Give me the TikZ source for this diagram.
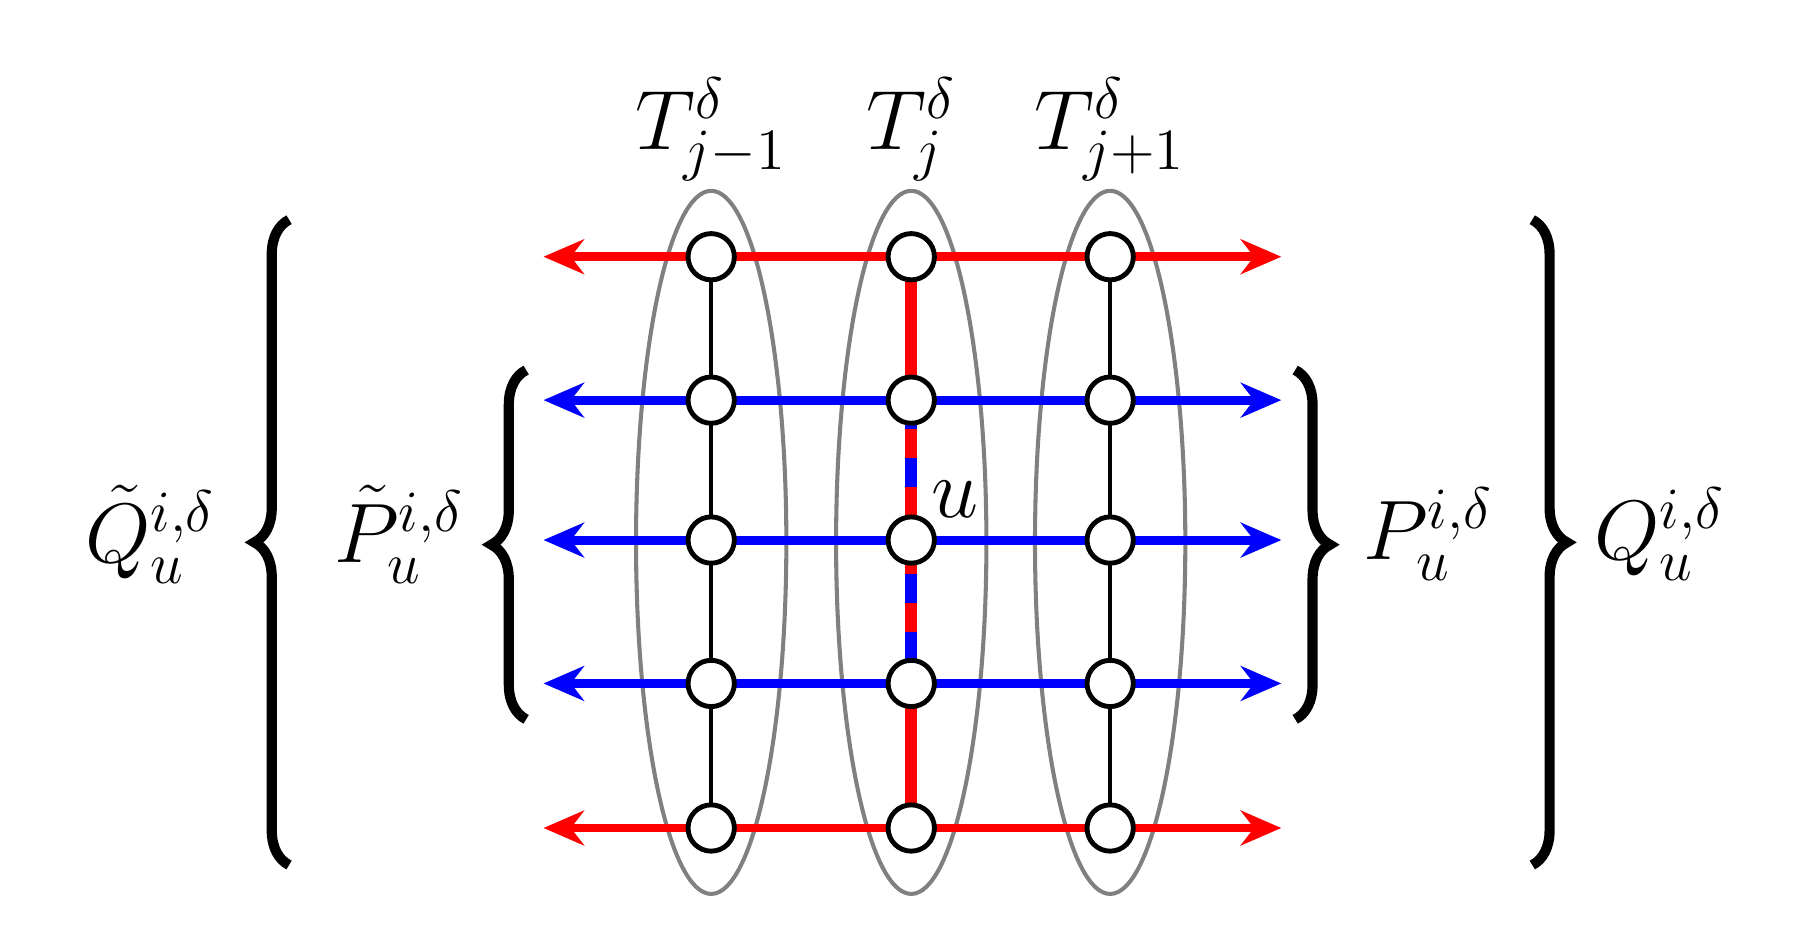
\documentclass[tikz,border=0pt]{standalone}
\usetikzlibrary{decorations.pathreplacing,arrows.meta}
\begin{document}
\begin{tikzpicture}[x=0.01cm,y=-0.01cm,
 vx/.style={circle,draw,fill=white,line width=1.2pt,minimum size=0.4cm,inner sep=0pt},
 redl/.style={red,line width=2.2pt},
 bluel/.style={blue,line width=2.2pt},
 arr/.style={-{Stealth[length=0.35cm,width=0.3cm]}},
 ell/.style={gray,line width=1pt},
 br/.style={decorate,decoration={brace,amplitude=0.3cm},line width=2.5pt},
 lab/.style={font=\fontsize{22}{26}\selectfont}]
\useasboundingbox (0,0) rectangle (1560,802);
\foreach \c/\x in {a/615,b/788,c/960}{
  \draw[ell] (\x,469) ellipse [x radius=65, y radius=304];
}
\foreach \c/\x in {a/615,b/788,c/960}
 \foreach \r/\y in {1/222,2/346,3/467,4/591,5/716}
  \coordinate (\c\r) at (\x,\y);
\foreach \r/\y in {1/222,5/716}{
 \coordinate (L\r) at (470,\y); \coordinate (R\r) at (1108,\y);
 \draw[redl,arr] (a\r) -- (L\r); \draw[redl,arr] (c\r) -- (R\r); \draw[redl] (a\r) -- (c\r);}
\foreach \r/\y in {2/346,3/467,4/591}{
 \coordinate (L\r) at (470,\y); \coordinate (R\r) at (1108,\y);
 \draw[bluel,arr] (a\r) -- (L\r); \draw[bluel,arr] (c\r) -- (R\r); \draw[bluel] (a\r) -- (c\r);}
\draw[line width=1pt] (a1) -- (a5); \draw[line width=1pt] (c1) -- (c5);
\draw[redl,line width=3pt] (b1) -- (b2); \draw[redl,line width=3pt] (b4) -- (b5);
\draw[redl,line width=3pt] (b2) -- (b4);
\draw[blue,line width=3pt,dash pattern=on 0.25cm off 0.25cm] (b2) -- (b4);
\foreach \c in {a,b,c} \foreach \r in {1,...,5} \node[vx] (n\c\r) at (\c\r) {};
\node[lab] (u) at (826,432) {$u$};
\node[lab] (t1) at (615,112) {$T^{\delta}_{j-1}$};
\node[lab] (t2) at (788,112) {$T^{\delta}_{j}$};
\node[lab] (t3) at (960,112) {$T^{\delta}_{j+1}$};
\draw[br] (250,748) -- (250,190);
\draw[br] (455,622) -- (455,320);
\draw[br] (1120,320) -- (1120,622);
\draw[br] (1325,190) -- (1325,748);
\node[lab] (q1) at (130,462) {$\tilde Q^{i,\delta}_u$};
\node[lab] (p1) at (345,462) {$\tilde P^{i,\delta}_u$};
\node[lab] (p2) at (1235,462) {$P^{i,\delta}_u$};
\node[lab] (q2) at (1435,462) {$Q^{i,\delta}_u$};
\end{tikzpicture}
\end{document}
